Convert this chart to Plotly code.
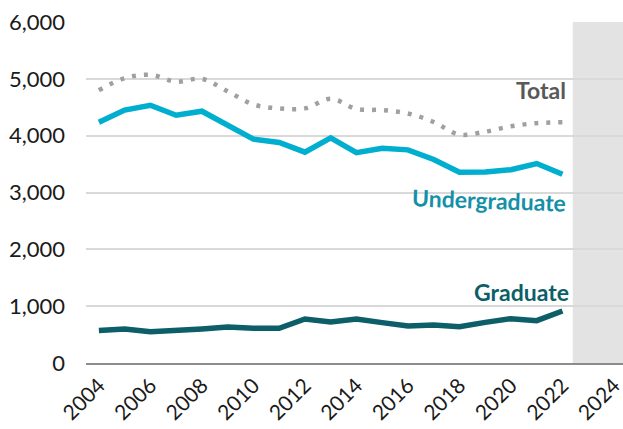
import plotly.graph_objects as go

years = list(range(2004, 2023))
undergraduate = [4235, 4450, 4535, 4360, 4430, 4190, 3940, 3880, 3710, 3960,
                 3700, 3780, 3750, 3580, 3355, 3360, 3400, 3510, 3320]
graduate = [570, 600, 550, 570, 600, 635, 610, 610, 775, 720,
            775, 710, 650, 670, 640, 715, 780, 745, 915]
total = [4800, 5010, 5070, 4950, 5000, 4780, 4550, 4480, 4480, 4650,
         4470, 4450, 4390, 4240, 4020, 4070, 4165, 4220, 4235]
tick_years = list(range(2004, 2025, 2))

FONT = "Lato"

fig = go.Figure()

# projection area shading
fig.add_shape(type="rect", xref="x", yref="y", x0=2022.4, x1=2024.6, y0=0, y1=6000,
              fillcolor="#e3e3e3", line_width=0, layer="below")

fig.add_trace(go.Scatter(
    x=years, y=total, mode="lines", name="Total",
    line=dict(color="#a0a0a0", width=4.5, dash="4px,8px", shape="spline", smoothing=1.0),
))
fig.add_trace(go.Scatter(
    x=years, y=undergraduate, mode="lines", name="Undergraduate",
    line=dict(color="#00afcf", width=5.5),
))
fig.add_trace(go.Scatter(
    x=years, y=graduate, mode="lines", name="Graduate",
    line=dict(color="#0c5e68", width=5.5),
))

# series labels
fig.add_annotation(x=2022.2, y=4800, text="<b>Total</b>", showarrow=False,
                   xanchor="right", yanchor="middle",
                   font=dict(family=FONT, size=23, color="#595959"))
fig.add_annotation(x=2022.25, y=2870, text="<b>Undergraduate</b>", showarrow=False,
                   xanchor="right", yanchor="middle", textangle=2,
                   font=dict(family=FONT, size=23, color="#1490a8"))
fig.add_annotation(x=2022.35, y=1250, text="<b>Graduate</b>", showarrow=False,
                   xanchor="right", yanchor="middle",
                   font=dict(family=FONT, size=23, color="#0c5e68"))

fig.update_layout(
    width=623, height=429,
    margin=dict(l=86, r=0, t=22, b=66),
    paper_bgcolor="white", plot_bgcolor="rgba(0,0,0,0)",
    showlegend=False,
    font=dict(family=FONT, size=22, color="#1a1a1a"),
)
fig.update_xaxes(
    range=[2003.5, 2024.35], tickvals=tick_years, tickangle=-45, automargin=False,
    ticklabeloverflow="allow",
    showgrid=False, zeroline=False, showline=True, linecolor="#8c8c8c", linewidth=2,
    ticks="", tickfont=dict(family=FONT, size=21, color="#1a1a1a"),
)
fig.update_yaxes(
    range=[0, 6000], dtick=1000, tickformat=",", automargin=False,
    ticklabeloverflow="allow",
    showgrid=True, gridcolor="#d9d9d9", gridwidth=1.5, zeroline=False,
    ticks="", ticklabelstandoff=20, tickfont=dict(family=FONT, size=22, color="#1a1a1a"),
)

# drop the default page margin so the figure sits at the window's corner
fig.write_html("out.html", config={"displayModeBar": False},
               post_script="document.body.style.margin='0';document.body.style.overflow='hidden';")
